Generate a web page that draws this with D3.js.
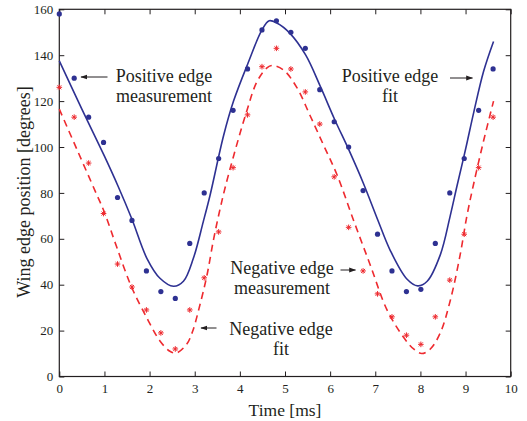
<!DOCTYPE html>
<html>
<head>
<meta charset="utf-8">
<script src="https://cdn.jsdelivr.net/npm/d3@7"></script>
<style>
  body { margin: 0; background: #fff; }
  svg text { font-family: "Liberation Serif", "Times New Roman", serif; fill: #231f20; }
</style>
</head>
<body>
<div id="chart"></div>
<script>
// measured samples (time in ms)
const sampleTimes = [0, 0.33, 0.65, 0.98, 1.29, 1.61, 1.93, 2.25, 2.57, 2.89, 3.21, 3.53, 3.85, 4.17, 4.49, 4.81,
                     5.13, 5.45, 5.77, 6.09, 6.41, 6.73, 7.05, 7.37, 7.69, 8.01, 8.33, 8.65, 8.97, 9.29, 9.61];
const positiveMeasured = [158, 130, 113, 102, 78, 68, 46, 37, 34, 58, 80, 95, 116, 134, 151, 155,
                          150, 143, 125, 111, 100, 81, 62, 46, 37, 38, 58, 80, 95, 116, 134];
const negativeMeasured = [126, 113, 93, 71, 49, 39, 29, 19, 12, 29, 43, 63, 91, 114, 135, 143,
                          134, 124, 110, 87, 65, 46, 36, 26, 18, 14, 26, 42, 62, 91, 113];

// fit curves
const positiveFitTimes = [0, 0.5, 1.0, 1.3, 1.61, 1.94, 2.23, 2.53, 2.75, 2.97, 3.19, 3.34, 3.64, 3.86, 4.18, 4.49, 4.65,
                          4.82, 5.11, 5.46, 5.78, 6.10, 6.42, 6.74, 7.06, 7.33, 7.70, 7.94, 8.15, 8.44, 8.66, 8.81,
                          9.0, 9.18, 9.40, 9.62];
const positiveFit = [137.5, 116.5, 96, 83, 68.5, 51.5, 42.8, 39.3, 41.5, 51.5, 67.5, 79, 105, 120, 136.5, 151, 155,
                     154, 149.5, 140, 126.5, 112, 98.5, 84, 68, 55, 42.5, 39.5, 41.5, 53, 70, 83,
                     99, 115, 133, 146];
const negativeFitTimes = [0, 0.4, 0.79, 1.0, 1.27, 1.60, 1.94, 2.23, 2.45, 2.59, 2.82, 2.95, 3.1, 3.27, 3.42, 3.55, 3.67,
                          3.86, 4.15, 4.38, 4.6, 4.72, 4.97, 5.26, 5.56, 5.85, 6.15, 6.52, 6.89, 7.26, 7.63, 7.85,
                          8.03, 8.22, 8.44, 8.66, 8.88, 9.03, 9.18, 9.40, 9.62];
const negativeFit = [116.5, 98.5, 81, 71.5, 56.5, 39, 25.5, 15.5, 11, 10.2, 14, 19.5, 30, 44, 60, 72, 82,
                     96, 115.5, 128.5, 134.5, 135.5, 133.5, 126, 113.5, 101, 88, 68, 48.5, 29, 17, 12,
                     10, 12, 19, 33, 53, 70, 84, 102.7, 120];

const xTicks = [0, 1, 2, 3, 4, 5, 6, 7, 8, 9, 10];
const yTicks = [0, 20, 40, 60, 80, 100, 120, 140, 160];

const blue = "#2e3192";
const red = "#ee2a2f";

let margin = { top: 9.3, right: 16.3, bottom: 44.5, left: 59.3 };
let width = 527 - margin.left - margin.right;
let height = 421 - margin.top - margin.bottom;

let svg = d3.select("#chart")
    .append("svg")
    .attr("width", 527)
    .attr("height", 421);

let g = svg.append("g")
    .attr("transform", "translate(" + margin.left + "," + margin.top + ")");

const x = d3.scaleLinear().domain([0, 10]).range([0, width]);
const y = d3.scaleLinear().domain([0, 160]).range([height, 0]);

// axes, ticks point inward like matlab
g.append("g")
    .attr("transform", "translate(0," + height + ")")
    .call(d3.axisBottom(x).tickValues(xTicks).tickSizeInner(-5).tickSizeOuter(0).tickPadding(7))
    .call(a => a.selectAll("text").style("font-size", "13px"));
g.append("g")
    .call(d3.axisLeft(y).tickValues(yTicks).tickSizeInner(-5).tickSizeOuter(0).tickPadding(6))
    .call(a => a.selectAll("text").style("font-size", "13px"));
g.append("g")
    .call(d3.axisTop(x).tickValues(xTicks).tickSizeInner(-5).tickSizeOuter(0).tickFormat(""));
g.append("g")
    .attr("transform", "translate(" + width + ",0)")
    .call(d3.axisRight(y).tickValues(yTicks).tickSizeInner(-5).tickSizeOuter(0).tickFormat(""));
g.selectAll(".domain").remove();
g.selectAll(".tick line").attr("stroke", "#231f20");
g.selectAll(".tick text").attr("fill", "#231f20");
g.append("rect")
    .attr("width", width)
    .attr("height", height)
    .attr("fill", "none")
    .attr("stroke", "#231f20")
    .attr("stroke-width", 1.2);

// fit lines
const line = d3.line()
    .x(d => x(d[0]))
    .y(d => y(d[1]))
    .curve(d3.curveCatmullRom.alpha(0.5));

g.append("path")
    .datum(negativeFitTimes.map((t, i) => [t, negativeFit[i]]))
    .attr("d", line)
    .attr("fill", "none")
    .attr("stroke", red)
    .attr("stroke-width", 1.6)
    .attr("stroke-dasharray", "7,5");

g.append("path")
    .datum(positiveFitTimes.map((t, i) => [t, positiveFit[i]]))
    .attr("d", line)
    .attr("fill", "none")
    .attr("stroke", blue)
    .attr("stroke-width", 1.6);

// measurements
g.selectAll(".posDot")
    .data(sampleTimes.map((t, i) => [t, positiveMeasured[i]]))
    .join("circle")
    .attr("class", "posDot")
    .attr("cx", d => x(d[0]))
    .attr("cy", d => y(d[1]))
    .attr("r", 2.6)
    .attr("fill", blue);

const negData = sampleTimes.map((t, i) => [t, negativeMeasured[i]]);
[d3.symbolPlus, d3.symbolTimes].forEach(sym => {
    g.selectAll(null)
        .data(negData)
        .join("path")
        .attr("d", d3.symbol(sym, 12))
        .attr("transform", d => "translate(" + x(d[0]) + "," + y(d[1]) + ")")
        .attr("fill", "none")
        .attr("stroke", red)
        .attr("stroke-width", 1);
});

// axis labels
svg.append("text")
    .attr("x", margin.left + width / 2)
    .attr("y", 416)
    .attr("text-anchor", "middle")
    .style("font-size", "17.5px")
    .text("Time [ms]");
svg.append("text")
    .attr("transform", "translate(30,192) rotate(-90)")
    .attr("text-anchor", "middle")
    .style("font-size", "18px")
    .text("Wing edge position [degrees]");

// annotations
svg.append("defs").append("marker")
    .attr("id", "head")
    .attr("viewBox", "0 0 10 10")
    .attr("refX", 9).attr("refY", 5)
    .attr("markerWidth", 7).attr("markerHeight", 7)
    .attr("markerUnits", "userSpaceOnUse")
    .attr("orient", "auto")
    .append("path")
    .attr("d", "M0,1.5 L10,5 L0,8.5 Z")
    .attr("fill", "#231f20");

const notes = [
    { lines: ["Positive edge", "measurement"], cx: 164, by: 82, arrow: [107.5, 77, 81, 77] },
    { lines: ["Positive edge", "fit"], cx: 390, by: 82, arrow: [450, 78, 472.5, 78] },
    { lines: ["Negative edge", "measurement"], cx: 282, by: 274, arrow: [340.5, 270, 355.5, 270] },
    { lines: ["Negative edge", "fit"], cx: 281, by: 335, arrow: [216.5, 328, 201, 328] }
];
notes.forEach(n => {
    n.lines.forEach((s, i) => {
        svg.append("text")
            .attr("x", n.cx)
            .attr("y", n.by + i * 20)
            .attr("text-anchor", "middle")
            .style("font-size", "18px")
            .text(s);
    });
    svg.append("line")
        .attr("x1", n.arrow[0]).attr("y1", n.arrow[1])
        .attr("x2", n.arrow[2]).attr("y2", n.arrow[3])
        .attr("stroke", "#231f20")
        .attr("stroke-width", 1)
        .attr("marker-end", "url(#head)");
});
</script>
</body>
</html>
